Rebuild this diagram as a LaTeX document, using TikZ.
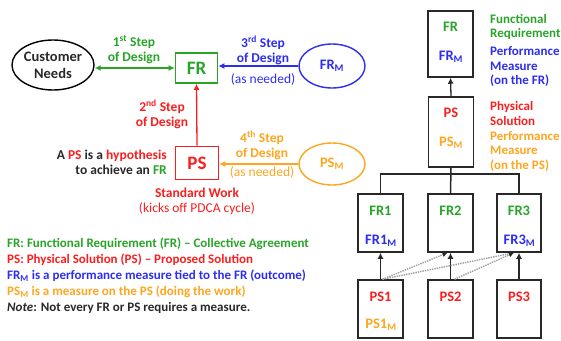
\documentclass[tikz,border=0pt]{standalone}
\usepackage{fontspec}
\setmainfont{Carlito}
\usetikzlibrary{arrows.meta,shapes.geometric}
\definecolor{mygreen}{RGB}{40,165,40}
\definecolor{myred}{RGB}{250,30,30}
\definecolor{myblue}{RGB}{45,45,240}
\definecolor{myorange}{RGB}{255,165,30}
\definecolor{mydark}{RGB}{40,40,40}
\tikzset{
  lbox/.style={draw, line width=1.6pt, minimum width=42pt, minimum height=30pt, inner sep=0pt, font=\fontsize{19}{19}\selectfont\bfseries},
  ell/.style={ellipse, draw, line width=1.4pt, inner sep=0pt, font=\fontsize{14.5}{17}\selectfont\bfseries, align=center},
  rbox/.style={draw=mydark, line width=1.5pt, minimum width=45pt, inner sep=0pt},
  arr/.style={-{Latex[length=6pt,width=6pt]}, line width=1.3pt},
  darr/.style={-{Latex[length=5pt,width=5pt,color=mydark]}, densely dotted, line width=1.4pt, draw=gray!75},
  lbl/.style={font=\fontsize{13.5}{15}\selectfont\bfseries, align=center, inner sep=0pt},
  note/.style={font=\fontsize{13.5}{15}\selectfont, inner sep=0pt},
  leg/.style={font=\fontsize{13}{15}\selectfont\bfseries, anchor=west, inner sep=0pt},
  rtxt/.style={font=\fontsize{14.5}{15}\selectfont\bfseries, inner sep=0pt},
  side/.style={font=\fontsize{13}{14.5}\selectfont\bfseries, anchor=west, align=left, inner sep=0pt},
  tree/.style={line width=1.5pt, draw=mydark}
}
\begin{document}
\begin{tikzpicture}[x=1pt,y=-1pt]
\useasboundingbox (0,0) rectangle (561,340);
% left part
\node[ell, minimum width=80pt, minimum height=50pt, text=mydark] (cn) at (53,65) {Customer\\Needs};
\node[lbox, draw=mygreen, text=mygreen] (fr) at (196.5,68) {FR};
\node[lbox, draw=myred, text=myred, minimum width=43pt, minimum height=33pt] (ps) at (197,163) {PS};
\node[ell, draw=myblue, text=myblue, minimum width=66pt, minimum height=44pt] (frm) at (332,66) {FR\textsubscript{M}};
\node[ell, draw=myorange, text=myorange, minimum width=66pt, minimum height=42pt] (psm) at (332,164) {PS\textsubscript{M}};
\draw[arr, {Latex[length=6pt,width=6pt]}-{Latex[length=6pt,width=6pt]}, mygreen] (fr.west) -- (fr.west -| cn.east);
\draw[arr, myblue] (frm.west) -- (fr.east |- frm.west);
\draw[arr, myorange] (psm.west) -- (ps.east |- psm.west);
\draw[arr, myred] (ps.north) -- (fr.south);
\node[lbl, mygreen] (s1) at (134,50) {1\textsuperscript{st} Step\\of Design};
\node[lbl, myred] (s2) at (162,114) {2\textsuperscript{nd} Step\\of Design};
\node[lbl, myblue] (s3) at (263,50) {3\textsuperscript{rd} Step\\of Design};
\node[note, myblue] (n3) at (263,79) {(as needed)};
\node[lbl, myorange] (s4) at (262,145) {4\textsuperscript{th} Step\\of Design};
\node[note, myorange] (n4) at (262,172) {(as needed)};
\node[lbl, align=right, anchor=east, text=mydark] (hyp) at (167,162) {A \textcolor{myred}{PS} is a \textcolor{myred}{hypothesis}\\to achieve an \textcolor{mygreen}{FR}};
\node[lbl, myred] (sw) at (197,193) {Standard Work};
\node[note, myred] (pd) at (197,209) {(kicks off PDCA cycle)};
% legend
\node[leg, mygreen] (l1) at (7,244) {FR: Functional Requirement (FR) -- Collective Agreement};
\node[leg, myred] (l2) at (7,260) {PS: Physical Solution (PS) -- Proposed Solution};
\node[leg, myblue] (l3) at (7,276) {FR\textsubscript{M} is a performance measure tied to the FR (outcome)};
\node[leg, myorange] (l4) at (7,292) {PS\textsubscript{M} is a measure on the PS (doing the work)};
\node[leg, mydark] (l5) at (7,308) {\textit{Note}: Not every FR or PS requires a measure.};
% right part
\node[rbox, minimum height=66pt] (tfr) at (450.5,44) {};
\node[rtxt, mygreen] (tfrt) at (450.5,27) {FR};
\node[rtxt, myblue] (tfrm) at (451,57) {FR\textsubscript{M}};
\node[rbox, minimum height=70pt] (tps) at (451,132) {};
\node[rtxt, myred] (tpst) at (451,113) {PS};
\node[rtxt, myorange] (tpsm) at (451,143) {PS\textsubscript{M}};
\draw[arr, mydark] (tps.north) -- (tfr.south);
\node[side, mygreen] (d1) at (490,27) {Functional\\Requirement};
\node[side, myblue] (d2) at (490,66.5) {Performance\\Measure\\(on the FR)};
\node[side, myred] (d3) at (490,113.5) {Physical\\Solution};
\node[side, myorange] (d4) at (490,151) {Performance\\Measure\\(on the PS)};
% level 2
\node[rbox, minimum height=58pt] (fr1) at (380.5,223) {};
\node[rbox, minimum height=58pt] (fr2) at (450.5,223) {};
\node[rbox, minimum height=58pt, minimum width=44pt] (fr3) at (519,223) {};
\node[rtxt, mygreen] (fr1t) at (380.5,211) {FR1};
\node[rtxt, myblue] (fr1m) at (381,241) {FR1\textsubscript{M}};
\node[rtxt, mygreen] (fr2t) at (450.5,211) {FR2};
\node[rtxt, mygreen] (fr3t) at (519,211) {FR3};
\node[rtxt, myblue] (fr3m) at (519.5,241) {FR3\textsubscript{M}};
\node[rbox, minimum height=58pt] (ps1) at (380.5,309) {};
\node[rbox, minimum height=58pt] (ps2) at (450.5,309) {};
\node[rbox, minimum height=58pt, minimum width=44pt] (ps3) at (519,309) {};
\node[rtxt, myred] (ps1t) at (380.5,297) {PS1};
\node[rtxt, myorange] (ps1m) at (381,325) {PS1\textsubscript{M}};
\node[rtxt, myred] (ps2t) at (450.5,297) {PS2};
\node[rtxt, myred] (ps3t) at (519,297) {PS3};
\coordinate (bar) at (451,174);
\draw[tree] (tps.south) -- (fr2.north);
\draw[tree] (fr1.north) |- (bar) -| (fr3.north);
\draw[arr, mydark] (ps1.north) -- (fr1.south);
\draw[arr, mydark] (ps2.north) -- (fr2.south);
\draw[arr, mydark] (ps3.north) -- (fr3.south);
\draw[darr] ([xshift=2pt]ps1.north) -- ([xshift=-3pt]fr2.south);
\draw[darr] ([xshift=2pt]ps1.north) -- ([xshift=-5pt]fr3.south);
\draw[darr] ([xshift=4pt]ps2.north) -- ([xshift=-5pt]fr3.south);
\end{tikzpicture}
\end{document}
